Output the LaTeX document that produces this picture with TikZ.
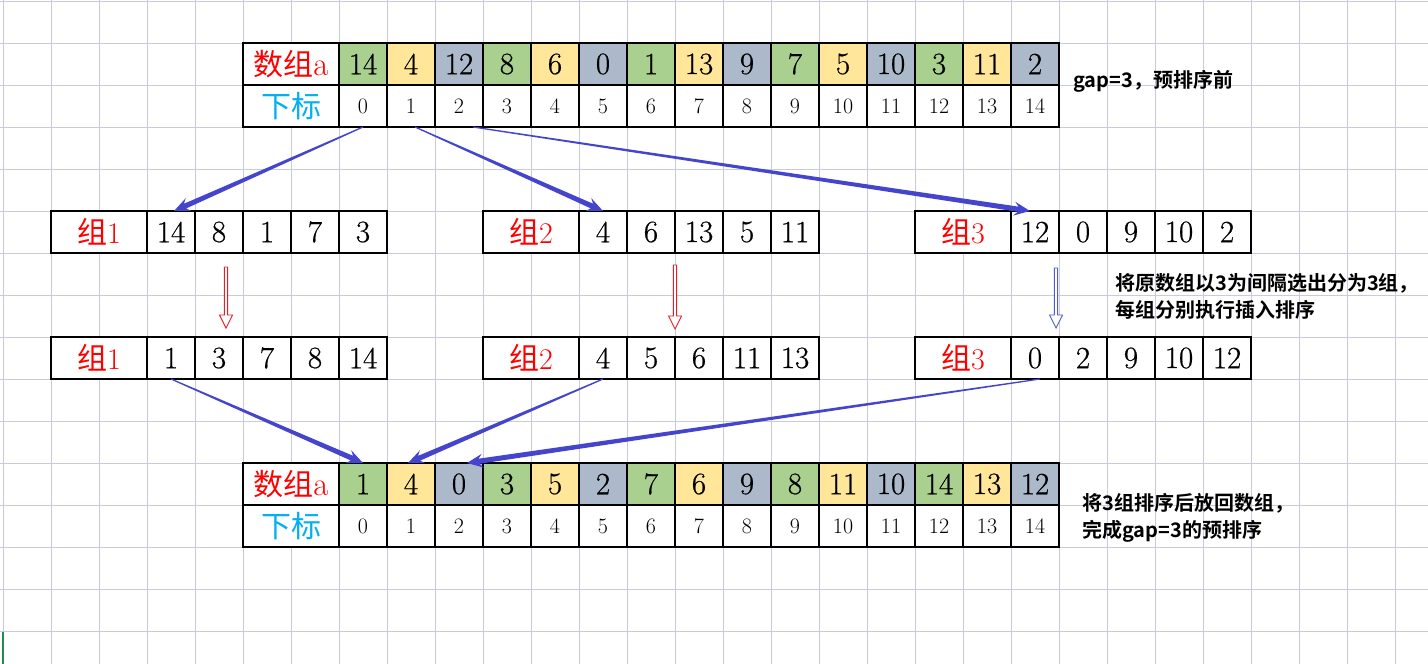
\documentclass[tikz,border=0pt]{standalone}
\usepackage{fontspec}
\newfontfamily\cjk{Noto Sans CJK SC}
\newfontfamily\cjkbold{Noto Sans CJK SC Bold}
\newfontfamily\numfont{Latin Modern Roman}[FakeBold=0.6]
\usetikzlibrary{calc}
\definecolor{col0}{RGB}{169,208,142}
\definecolor{col1}{RGB}{255,230,153}
\definecolor{col2}{RGB}{172,185,202}
\definecolor{gridc}{RGB}{200,204,218}
\definecolor{cred}{RGB}{255,0,0}
\definecolor{ccyan}{RGB}{0,176,240}
\definecolor{arrowblue}{RGB}{68,68,204}
\definecolor{hollowblue}{RGB}{80,90,210}
\definecolor{hollowred}{RGB}{230,30,40}
\definecolor{markgreen}{RGB}{33,140,80}
\newcommand\taperarrow[2]{%
  \path (#1) coordinate (ta-s) (#2) coordinate (ta-e);
  \path ($(ta-e)!16pt!(ta-s)$) coordinate (ta-c) ($(ta-e)!12pt!(ta-s)$) coordinate (ta-n);
  \fill[arrowblue] ($(ta-s)!0.6pt!90:(ta-e)$) -- ($(ta-n)!2.6pt!-90:(ta-s)$) -- ($(ta-c)!7pt!-90:(ta-s)$) -- (ta-e)
    -- ($(ta-c)!7pt!90:(ta-s)$) -- ($(ta-n)!2.6pt!90:(ta-s)$) -- ($(ta-s)!0.6pt!-90:(ta-e)$) -- cycle;
}
\newcommand\hollowdown[3]{%
  \filldraw[draw=#3,fill=white,line width=0.9pt,line join=miter]
    ($(#1)+(-1.6,0)$) -- ($(#2)+(-1.6,-13)$) -- ($(#2)+(-6.5,-13)$) -- (#2)
    -- ($(#2)+(6.5,-13)$) -- ($(#2)+(1.6,-13)$) -- ($(#1)+(1.6,0)$) -- cycle;
}
\newcommand\biga{{\fontsize{33}{33}\selectfont a}}
\begin{document}
\begin{tikzpicture}[x=1pt,y=-1pt,
  cell/.style={draw=black,line width=1.1pt,minimum width=48pt,minimum height=42pt,inner sep=0pt,outer sep=0pt},
  labcell/.style={cell,minimum width=96pt},
  bignum/.style={font=\numfont\fontsize{31}{32}\selectfont},
  idxnum/.style={font=\fontsize{22}{23}\selectfont},
  redlab/.style={text=cred,font=\fontsize{30}{31}\selectfont},
  cyanlab/.style={text=ccyan,font=\cjk\fontsize{30}{31}\selectfont},
  note/.style={font=\cjkbold\fontsize{20}{27}\selectfont,align=left,anchor=west,inner sep=0pt}]
\fill[white] (0,0) rectangle (1428,664);
\useasboundingbox (0,0) rectangle (1428,664);
% spreadsheet grid
\foreach \gx in {0,...,29} \draw[gridc,line width=1pt] ({3+48*\gx},0) -- ({3+48*\gx},664);
\foreach \gy in {0,...,15} \draw[gridc,line width=1pt] (0,{1+42*\gy}) -- (1428,{1+42*\gy});
\draw[markgreen,line width=2pt] (3,632) -- (3,664);
% top table
\node[labcell,fill=white,redlab] (t-lab) at (291,64) {{\cjk 数组}\biga};
\node[labcell,fill=white,cyanlab] (t-idx) at (291,106) {下标};
\foreach \v [count=\i from 0] in {14,4,12,8,6,0,1,13,9,7,5,10,3,11,2} {
  \pgfmathtruncatemacro\m{mod(\i,3)}
  \node[cell,fill=col\m,bignum] (t-v-\i) at ({363+48*\i},64) {\v};
  \node[cell,fill=white,idxnum] (t-i-\i) at ({363+48*\i},106) {\i};
}
% groups before sorting
\node[labcell,fill=white,redlab] (g1-u-l) at (99,232) {{\cjk 组}1};
\foreach \v [count=\j from 0] in {14,8,1,7,3} \node[cell,fill=white,bignum] (g1-u-\j) at ({171+48*\j},232) {\v};
\node[labcell,fill=white,redlab] (g2-u-l) at (531,232) {{\cjk 组}2};
\foreach \v [count=\j from 0] in {4,6,13,5,11} \node[cell,fill=white,bignum] (g2-u-\j) at ({603+48*\j},232) {\v};
\node[labcell,fill=white,redlab] (g3-u-l) at (963,232) {{\cjk 组}3};
\foreach \v [count=\j from 0] in {12,0,9,10,2} \node[cell,fill=white,bignum] (g3-u-\j) at ({1035+48*\j},232) {\v};
% groups after sorting
\node[labcell,fill=white,redlab] (g1-s-l) at (99,358) {{\cjk 组}1};
\foreach \v [count=\j from 0] in {1,3,7,8,14} \node[cell,fill=white,bignum] (g1-s-\j) at ({171+48*\j},358) {\v};
\node[labcell,fill=white,redlab] (g2-s-l) at (531,358) {{\cjk 组}2};
\foreach \v [count=\j from 0] in {4,5,6,11,13} \node[cell,fill=white,bignum] (g2-s-\j) at ({603+48*\j},358) {\v};
\node[labcell,fill=white,redlab] (g3-s-l) at (963,358) {{\cjk 组}3};
\foreach \v [count=\j from 0] in {0,2,9,10,12} \node[cell,fill=white,bignum] (g3-s-\j) at ({1035+48*\j},358) {\v};
% bottom table
\node[labcell,fill=white,redlab] (b-lab) at (291,484) {{\cjk 数组}\biga};
\node[labcell,fill=white,cyanlab] (b-idx) at (291,526) {下标};
\foreach \v [count=\i from 0] in {1,4,0,3,5,2,7,6,9,8,11,10,14,13,12} {
  \pgfmathtruncatemacro\m{mod(\i,3)}
  \node[cell,fill=col\m,bignum] (b-v-\i) at ({363+48*\i},484) {\v};
  \node[cell,fill=white,idxnum] (b-i-\i) at ({363+48*\i},526) {\i};
}
% notes
\node[note] (n1) at (1073,81) {gap=3，预排序前};
\node[note] (n2) at (1115,296.5) {将原数组以3为间隔选出分为3组，\\每组分别执行插入排序};
\node[note] (n3) at (1082,517.5) {将3组排序后放回数组，\\完成gap=3的预排序};
% split arrows
\coordinate (a1s) at (t-i-0.south);
\coordinate (a1e) at ($(g1-u-0.north)+(3,0)$);
\coordinate (a2s) at ($(t-i-1.south)+(4,0)$);
\coordinate (a2e) at (g2-u-0.north);
\coordinate (a3s) at ($(t-i-2.south)+(14,0)$);
\coordinate (a3e) at ($(g3-u-0.north)+(-5,0)$);
\taperarrow{a1s}{a1e}
\taperarrow{a2s}{a2e}
\taperarrow{a3s}{a3e}
% sort arrows
\coordinate (d1s) at (226,267); \coordinate (d1e) at (226,328);
\coordinate (d2s) at (675,265); \coordinate (d2e) at (675,329);
\coordinate (d3s) at (1056,268); \coordinate (d3e) at (1056,328);
\hollowdown{d1s}{d1e}{hollowred}
\hollowdown{d2s}{d2e}{hollowred}
\hollowdown{d3s}{d3e}{hollowblue}
% merge arrows
\coordinate (b1s) at (g1-s-0.south);
\coordinate (b1e) at (b-v-0.north);
\coordinate (b2s) at (g2-s-0.south);
\coordinate (b2e) at ($(b-v-1.north)+(-3,0)$);
\coordinate (b3s) at ($(g3-s-0.south)+(5,0)$);
\coordinate (b3e) at ($(b-v-2.north)+(8,0)$);
\taperarrow{b1s}{b1e}
\taperarrow{b2s}{b2e}
\taperarrow{b3s}{b3e}
\end{tikzpicture}
\end{document}
